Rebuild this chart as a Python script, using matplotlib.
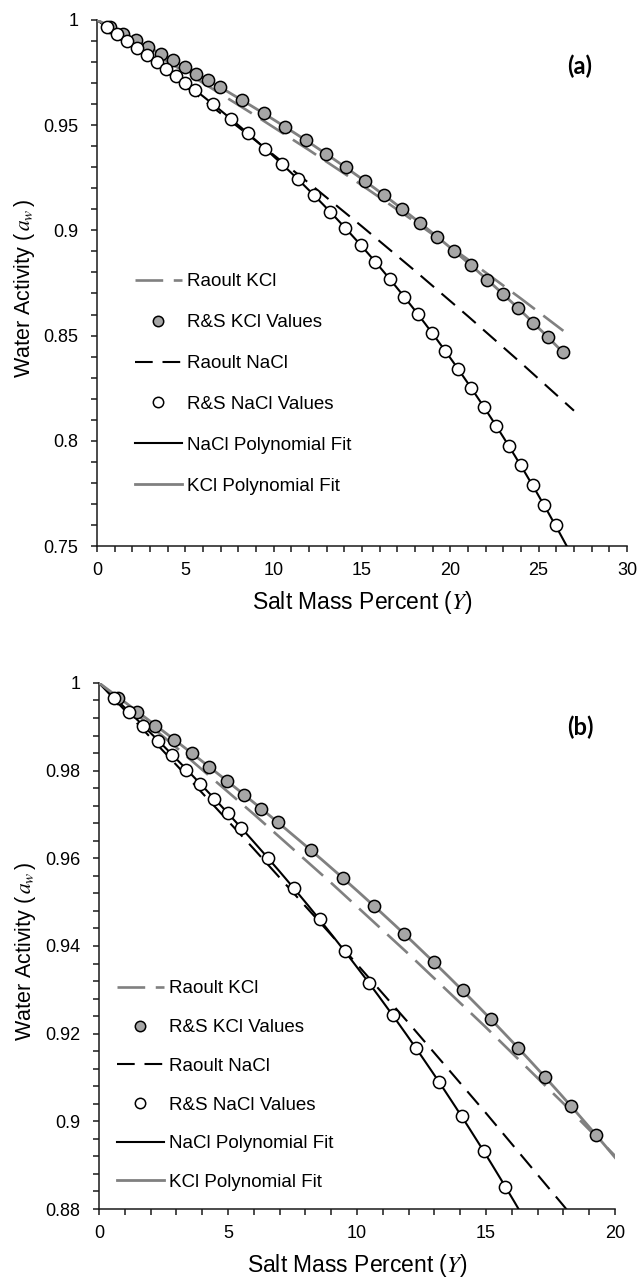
import numpy as np
import matplotlib
matplotlib.use("Agg")
import matplotlib.pyplot as plt
from matplotlib.ticker import MultipleLocator, FuncFormatter

plt.rcParams['font.family'] = ['Liberation Sans', 'DejaVu Sans']
plt.rcParams['mathtext.fontset'] = 'stix'

# ---------------- data ----------------
# Robinson & Stokes NaCl values: salt mass percent and water activity
nacl_Y = [0.581, 1.155, 1.723, 2.284, 2.839, 3.388, 3.930, 4.466, 4.997, 5.521,
          6.553, 7.563, 8.551, 9.518, 10.465, 11.392, 12.300, 13.190, 14.062, 14.917,
          15.754, 16.576, 17.382, 18.172, 18.947, 19.708, 20.454, 21.187, 21.906, 22.613,
          23.306, 23.988, 24.657, 25.315, 25.961]
nacl_aw = [0.99665, 0.99336, 0.99009, 0.98682, 0.98355, 0.98024, 0.97692, 0.97359, 0.97023, 0.96686,
           0.96006, 0.95314, 0.94607, 0.93889, 0.93160, 0.92418, 0.91663, 0.90895, 0.90111, 0.89316,
           0.88509, 0.87688, 0.86853, 0.86003, 0.85145, 0.84274, 0.83392, 0.82498, 0.81595, 0.80681,
           0.79758, 0.78826, 0.77880, 0.76932, 0.75980]

# Robinson & Stokes KCl values
kcl_Y = [0.740, 1.469, 2.188, 2.896, 3.594, 4.282, 4.960, 5.628, 6.288, 6.938,
         8.211, 9.451, 10.657, 11.831, 12.975, 14.090, 15.177, 16.236, 17.269, 18.277,
         19.261, 20.222, 21.159, 22.075, 22.970, 23.845, 24.700, 25.536, 26.354]
kcl_aw = [0.99667, 0.99344, 0.99025, 0.98709, 0.98394, 0.98078, 0.97763, 0.97448, 0.97133, 0.96818,
          0.96189, 0.95557, 0.94921, 0.94281, 0.93637, 0.92989, 0.92338, 0.91682, 0.91022, 0.90357,
          0.89688, 0.89017, 0.88342, 0.87664, 0.86981, 0.86295, 0.85608, 0.84920, 0.84229]

# Raoult's-law lines
raoult_nacl_Y = [0, 3, 6, 9, 12, 15, 18, 21, 24, 27]
raoult_nacl_aw = [1.0, 0.98129, 0.96214, 0.94253, 0.92245, 0.90187, 0.88079, 0.85920, 0.83703, 0.81431]
raoult_kcl_Y = [0, 3, 6, 9, 12, 15, 18, 21, 24, 26.4]
raoult_kcl_aw = [1.0, 0.98527, 0.97007, 0.95438, 0.93817, 0.92142, 0.90409, 0.88615, 0.86757, 0.85225]

labels = ['Raoult KCl', 'R&S KCl Values', 'Raoult NaCl', 'R&S NaCl Values',
          'NaCl Polynomial Fit', 'KCl Polynomial Fit']


def polyfit_origin(x, y, deg=3):
    x = np.asarray(x)
    y = np.asarray(y) - 1.0
    A = np.vstack([x ** k for k in range(1, deg + 1)]).T
    c, *_ = np.linalg.lstsq(A, y, rcond=None)
    return lambda t: 1.0 + sum(c[k - 1] * np.asarray(t) ** k for k in range(1, deg + 1))


nacl_fit = polyfit_origin(nacl_Y, nacl_aw, 3)
kcl_fit = polyfit_origin(kcl_Y, kcl_aw, 3)

GRAY_LINE = '#808080'
GRAY_FILL = '#a6a6a6'

fig = plt.figure(figsize=(6.4, 12.79), dpi=100)
ax_a = fig.add_axes([0.1516, 0.5731, 0.828, 0.4113])
ax_b = fig.add_axes([0.1547, 0.05473, 0.8062, 0.4113])


def in_range(xs, ys, xmax, ymin):
    xs = np.asarray(xs)
    ys = np.asarray(ys)
    m = (xs <= xmax) & (ys >= ymin)
    return xs[m], ys[m]


def draw(ax, xmax, ymin, ymaj, ymin_step, leg_x, leg_mid, leg_ls, panel, plab_xy):
    ax.plot(raoult_kcl_Y, raoult_kcl_aw, color=GRAY_LINE, lw=1.9, dashes=(10.5, 4.0), zorder=2,
            label=labels[0])
    kx, ky = in_range(kcl_Y, kcl_aw, xmax, ymin)
    ax.plot(kx, ky, 'o', ms=8.8, mfc=GRAY_FILL, mec='black', mew=1.1, zorder=5,
            label=labels[1])
    ax.plot(raoult_nacl_Y, raoult_nacl_aw, color='black', lw=1.5, dashes=(8.5, 4.7), zorder=2,
            label=labels[2])
    nx, ny = in_range(nacl_Y, nacl_aw, xmax, ymin)
    ax.plot(nx, ny, 'o', ms=8.8, mfc='white', mec='black', mew=1.1, zorder=5,
            label=labels[3])
    t_n = np.linspace(0, 27.2, 300)
    ax.plot(t_n, nacl_fit(t_n), color='black', lw=1.5, zorder=3, label=labels[4])
    t_k = np.linspace(0, kcl_Y[-1], 300)
    ax.plot(t_k, kcl_fit(t_k), color=GRAY_LINE, lw=2.0, zorder=3, label=labels[5])

    ax.set_xlim(0, xmax)
    ax.set_ylim(ymin, 1.0)
    for s in ['top', 'right']:
        ax.spines[s].set_visible(False)
    for s in ['left', 'bottom']:
        ax.spines[s].set_linewidth(1.1)
        ax.spines[s].set_color('#1a1a1a')
    ax.xaxis.set_major_locator(MultipleLocator(5))
    ax.xaxis.set_minor_locator(MultipleLocator(1))
    ax.yaxis.set_major_locator(MultipleLocator(ymaj))
    ax.yaxis.set_minor_locator(MultipleLocator(ymin_step))
    ax.yaxis.set_major_formatter(FuncFormatter(lambda v, p: '{:g}'.format(round(v, 6))))
    ax.tick_params(which='both', direction='out', length=4.5, width=1.1, color='#1a1a1a')
    ax.tick_params(axis='x', which='major', labelsize=13, pad=7)
    ax.tick_params(axis='y', which='major', labelsize=13, pad=9)

    ax.set_xlabel(r'Salt Mass Percent ($Y$)', fontsize=16.5)
    ax.set_ylabel(r'Water Activity ($\,a_w\,$)', fontsize=15.5)
    ax.xaxis.set_label_coords(0.5, -0.1065)
    ax.xaxis.label.set_va('center')
    ax.yaxis.label.set_va('center')
    ax.yaxis.label.set_ha('center')

    ax.legend(loc='center left', bbox_to_anchor=(leg_x, leg_mid), frameon=False,
              fontsize=13.5, borderpad=0, borderaxespad=0, handlelength=2.5,
              handletextpad=0.28, labelspacing=leg_ls, markerscale=0.85)
    ax.text(plab_xy[0], plab_xy[1], panel, transform=ax.transAxes, fontsize=17,
            fontweight='bold', family='Lato', ha='center', va='center')


draw(ax_a, 30, 0.75, 0.05, 0.01, 0.0717, 0.308, 1.27, '(a)', (0.911, 0.911))
ax_a.yaxis.set_label_coords(-0.136, 0.49)
draw(ax_b, 20, 0.88, 0.02, 0.004, 0.0349, 0.2345, 1.15, '(b)', (0.932, 0.916))
ax_b.yaxis.set_label_coords(-0.143, 0.49)

fig.savefig('out.png', dpi=100)
